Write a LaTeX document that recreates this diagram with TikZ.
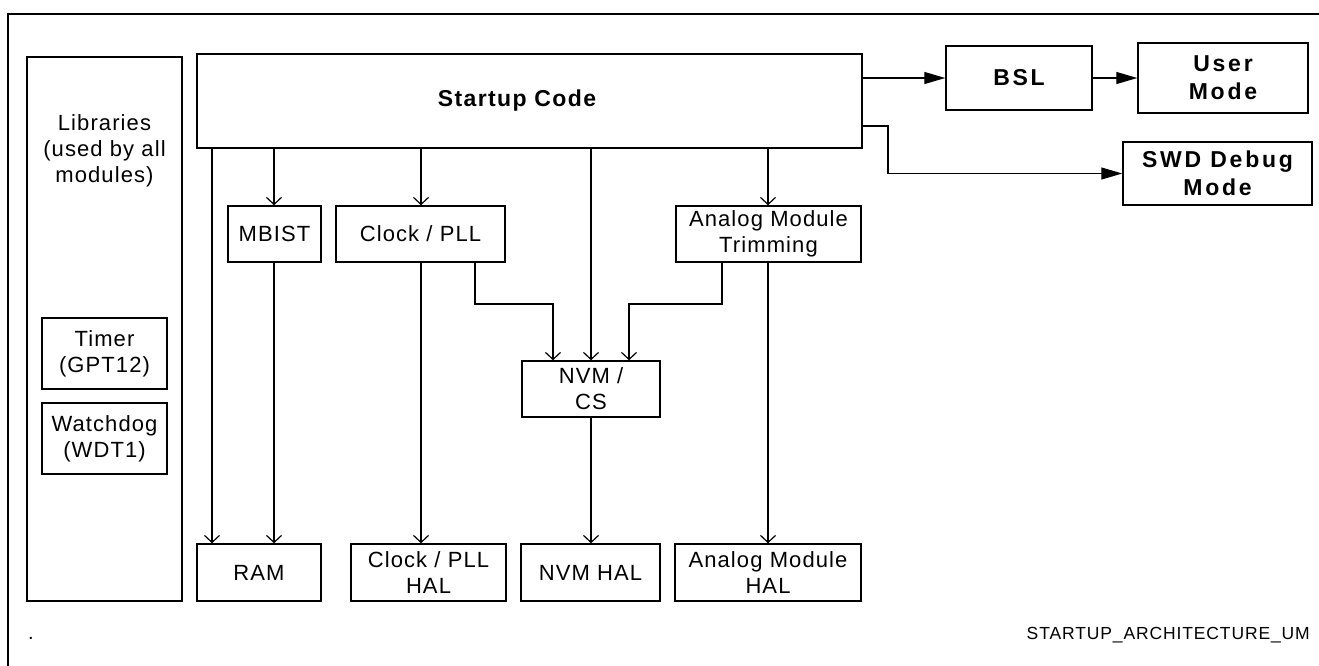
\documentclass[tikz,border=0pt]{standalone}
\usepackage{fontspec}
\setmainfont{Liberation Sans}
\newfontfamily\lsreg[LetterSpace=5]{Liberation Sans}
\newfontfamily\lsbold[LetterSpace=12]{Liberation Sans}
\newfontfamily\lsstart[LetterSpace=6]{Liberation Sans}
\newfontfamily\lsnote[LetterSpace=5]{Liberation Sans}
\usetikzlibrary{arrows.meta}
\tikzset{
  box/.style={draw, line width=1.5pt, inner sep=0pt, align=center,
    font=\lsreg\fontsize{22}{26}\selectfont},
  boldbox/.style={draw, line width=1.5pt, inner sep=0pt, align=center,
    font=\lsbold\bfseries\fontsize{23}{28}\selectfont},
  conn/.style={line width=1.2pt, -{Straight Barb[length=7pt,width=15pt,line width=1.2pt]}},
  fconn/.style={line width=1.2pt, -{Triangle[length=21pt,width=12pt]}},
  plain/.style={inner sep=0pt}
}
\begin{document}
\begin{tikzpicture}[x=1pt,y=-1pt]
\useasboundingbox (0,0) rectangle (1319,666);
\fill[white] (0,0) rectangle (1319,666);
% outer frame (top and left edges)
\draw[line width=1.3pt] (8,666) -- (8,14) -- (1319,14);

% libraries column
\node[box, minimum width=155pt, minimum height=544pt] (lib) at (104.5,329) {};
\node[plain, align=center, font=\lsreg\fontsize{22}{26}\selectfont] (libtxt) at (104.5,151) {Libraries\\(used by all\\modules)};
\node[box, minimum width=125pt, minimum height=71pt] (timer) at (104.5,353.5) {Timer\\(GPT12)};
\node[box, minimum width=125pt, minimum height=71pt] (wdt) at (104.5,438.5) {Watchdog\\(WDT1)};

% startup code
\node[box, minimum width=665pt, minimum height=94pt] (startup) at (529.5,101) {};
\node[plain, anchor=base, font=\lsstart\bfseries\fontsize{23}{28}\selectfont] (starttxt) at (517,107) {Startup Code};

% right side
\node[boldbox, minimum width=146pt, minimum height=64pt] (bsl) at (1019,78) {BSL};
\node[boldbox, minimum width=170pt, minimum height=70pt] (user) at (1223,78) {User\\Mode};
\node[boldbox, minimum width=189pt, minimum height=63pt] (swd) at (1217.5,173.5) {SWD Debug\\Mode};

% middle row
\node[box, minimum width=93pt, minimum height=56pt] (mbist) at (274.5,234) {MBIST};
\node[box, minimum width=169pt, minimum height=56pt] (clock) at (420.5,234) {Clock / PLL};
\node[box, minimum width=185pt, minimum height=56pt] (amt) at (768.5,234) {Analog Module\\Trimming};
\node[box, minimum width=138pt, minimum height=56pt] (nvm) at (591,389) {NVM /\\CS};

% bottom row
\node[box, minimum width=124pt, minimum height=57pt] (ram) at (259,572.5) {RAM};
\node[box, minimum width=155pt, minimum height=57pt] (clkhal) at (428.5,572.5) {Clock / PLL\\HAL};
\node[box, minimum width=139pt, minimum height=57pt] (nvmhal) at (590.5,572.5) {NVM HAL};
\node[box, minimum width=186pt, minimum height=57pt] (amhal) at (768,572.5) {Analog Module\\HAL};

% notes
\node[plain, anchor=base, font=\lsreg\fontsize{20}{24}\selectfont] (dot) at (31,639) {.};
\node[plain, anchor=base east, font=\lsnote\fontsize{17.5}{21}\selectfont] (figid) at (1310,639) {STARTUP\_ARCHITECTURE\_UM};

% connectors
\draw[fconn] (startup.east |- bsl.west) -- (bsl.west);
\draw[fconn] (bsl.east) -- (user.west);
\draw[fconn] (startup.east |- 0,126) -- (888,126) |- (swd.west);

\draw[conn] (212,0 |- startup.south) -- (212,0 |- ram.north);
\draw[conn] (274,0 |- startup.south) -- (274,0 |- mbist.north);
\draw[conn] (274,0 |- mbist.south) -- (274,0 |- ram.north);
\draw[conn] (421,0 |- startup.south) -- (421,0 |- clock.north);
\draw[conn] (421,0 |- clock.south) -- (421,0 |- clkhal.north);
\draw[conn] (475,0 |- clock.south) -- (475,304) -| (553,0 |- nvm.north);
\draw[conn] (591,0 |- startup.south) -- (591,0 |- nvm.north);
\draw[conn] (591,0 |- nvm.south) -- (591,0 |- nvmhal.north);
\draw[conn] (768,0 |- startup.south) -- (768,0 |- amt.north);
\draw[conn] (768,0 |- amt.south) -- (768,0 |- amhal.north);
\draw[conn] (722,0 |- amt.south) -- (722,304) -| (629,0 |- nvm.north);
\end{tikzpicture}
\end{document}
